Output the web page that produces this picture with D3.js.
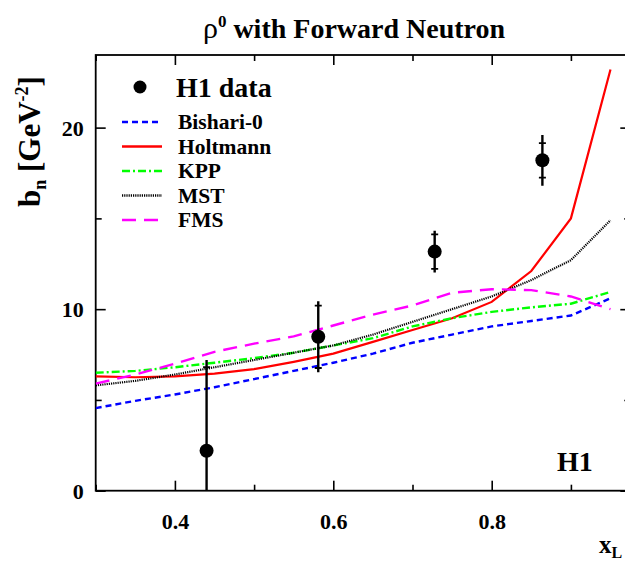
<!DOCTYPE html>
<html><head><meta charset="utf-8">
<script src="https://cdn.jsdelivr.net/npm/d3@7"></script>
<style>
body{margin:0;background:#fff;}
svg{display:block;}
text{font-family:"Liberation Serif","Times New Roman",serif;font-weight:bold;fill:#000;}
</style></head>
<body>
<svg id="chart" width="625" height="562"></svg>
<script>
// ---- data ----
const modelX = [0.30,0.35,0.40,0.45,0.50,0.55,0.60,0.65,0.70,0.75,0.80,0.85,0.90,0.95];
const bishari = [4.55,4.95,5.30,5.70,6.15,6.60,7.05,7.55,8.15,8.60,9.05,9.35,9.65,10.6];
const holtmann = [6.30,6.25,6.30,6.45,6.70,7.10,7.55,8.20,8.85,9.50,10.4,12.1,15.0,23.2];
const kpp = [6.50,6.60,6.80,7.05,7.30,7.60,8.00,8.40,9.05,9.50,9.85,10.1,10.3,10.95];
const mst = [5.80,6.05,6.40,6.80,7.20,7.60,8.00,8.60,9.30,10.0,10.7,11.6,12.7,14.9];
const fms = [5.90,6.40,7.00,7.65,8.10,8.50,9.10,9.70,10.2,10.9,11.1,11.05,10.7,10.0];

const dataX = [0.440,0.581,0.728,0.864];
const dataY = [2.2,8.48,13.17,18.2];
const statErr = [4.6,1.72,0.95,0.95];
const totErr = [5.0,1.95,1.15,1.40];

const xTicks = [0.3,0.4,0.5,0.6,0.7,0.8,0.9];
const xMajor = [0.4,0.6,0.8];
const yTicks = [0,5,10,15,20];
const yMajor = [0,10,20];

const seriesNames = ["Bishari-0","Holtmann","KPP","MST","FMS"];
const seriesData = [bishari,holtmann,kpp,mst,fms];
const seriesColors = ["#0000ff","#ff0000","#00ff00","#000000","#ff00ff"];
const seriesDash = ["6,4","none","8,3,2,3","1.2,1","14,8"];
const seriesWidth = [2.4,2.2,2.4,2.2,2.4];

// ---- layout ----
const svg = d3.select("#chart");
const L=95.7, R=630.3, T=55, B=490.7;
const x = d3.scaleLinear().domain([0.3,0.975]).range([L,R]);
const y = d3.scaleLinear().domain([0,24]).range([B,T]);

svg.append("defs").append("clipPath").attr("id","clip")
  .append("rect").attr("x",L).attr("y",T).attr("width",R-L).attr("height",B-T);

// title
const title = svg.append("text").attr("x",354).attr("y",38).attr("text-anchor","middle").style("font-size","28px");
title.append("tspan").style("font-weight","normal").style("font-size","30px").text("ρ");
title.append("tspan").attr("dy",-11).style("font-size","17px").text("0");
title.append("tspan").attr("dy",11).text(" with Forward Neutron");

// axes (ticks)
const tickLen = v => xMajor.some(m=>Math.abs(m-v)<1e-9) ? 10 : 6;
const ytickLen = v => yMajor.includes(v) ? 10 : 6;

function styleAxis(g){ g.select(".domain").remove(); g.selectAll(".tick line").attr("stroke","#000").attr("stroke-width",1.6); }

const xb = svg.append("g").attr("transform",`translate(0,${B})`)
  .call(d3.axisBottom(x).tickValues(xTicks).tickSize(0).tickFormat(d=>xMajor.some(m=>Math.abs(m-d)<1e-9)?d3.format(".1f")(d):""));
styleAxis(xb);
xb.selectAll(".tick line").attr("y2",d=>-tickLen(d));
xb.selectAll(".tick text").attr("y",38).attr("dy",0).style("font-size","22px").style("font-family","Liberation Serif").style("font-weight","bold");

const xt = svg.append("g").attr("transform",`translate(0,${T})`)
  .call(d3.axisTop(x).tickValues(xTicks).tickSize(0).tickFormat(""));
styleAxis(xt);
xt.selectAll(".tick line").attr("y2",d=>tickLen(d));

const yl = svg.append("g").attr("transform",`translate(${L},0)`)
  .call(d3.axisLeft(y).tickValues(yTicks).tickSize(0).tickFormat(d=>yMajor.includes(d)?d:""));
styleAxis(yl);
yl.selectAll(".tick line").attr("x2",d=>ytickLen(d));
yl.selectAll(".tick text").attr("x",-12).attr("dy","0.35em").style("font-size","22px").style("font-family","Liberation Serif").style("font-weight","bold");

const yr = svg.append("g").attr("transform",`translate(${R},0)`)
  .call(d3.axisRight(y).tickValues(yTicks).tickSize(0).tickFormat(""));
styleAxis(yr);
yr.selectAll(".tick line").attr("x2",d=>-ytickLen(d));

// frame
svg.append("rect").attr("x",L).attr("y",T).attr("width",R-L).attr("height",B-T)
  .attr("fill","none").attr("stroke","#000").attr("stroke-width",1.8);

// model curves
const plot = svg.append("g").attr("clip-path","url(#clip)");
const line = d3.line().x((d,i)=>x(modelX[i])).y(d=>y(d));
seriesData.forEach((s,k)=>{
  plot.append("path").datum(s).attr("d",line).attr("fill","none")
    .attr("stroke",seriesColors[k]).attr("stroke-width",seriesWidth[k])
    .attr("stroke-dasharray",seriesDash[k]==="none"?null:seriesDash[k]);
});

// data points
dataX.forEach((xv,i)=>{
  const cx=x(xv);
  plot.append("line").attr("x1",cx).attr("x2",cx)
    .attr("y1",y(dataY[i]+totErr[i])).attr("y2",y(dataY[i]-totErr[i]))
    .attr("stroke","#000").attr("stroke-width",2.4);
  [dataY[i]+statErr[i],dataY[i]-statErr[i]].forEach(v=>{
    plot.append("line").attr("x1",cx-3.5).attr("x2",cx+3.5).attr("y1",y(v)).attr("y2",y(v))
      .attr("stroke","#000").attr("stroke-width",1.8);
  });
  plot.append("circle").attr("cx",cx).attr("cy",y(dataY[i])).attr("r",7).attr("fill","#000");
});

// legend
svg.append("circle").attr("cx",140).attr("cy",87).attr("r",6.5).attr("fill","#000");
svg.append("text").attr("x",176).attr("y",97).style("font-size","28px").text("H1 data");
seriesNames.forEach((n,k)=>{
  const cy=122+24.5*k;
  svg.append("line").attr("x1",122).attr("x2",162).attr("y1",cy).attr("y2",cy)
    .attr("stroke",seriesColors[k]).attr("stroke-width",seriesWidth[k]+0.3)
    .attr("stroke-dasharray",seriesDash[k]==="none"?null:seriesDash[k]);
  svg.append("text").attr("x",178).attr("y",cy+7).style("font-size","21.5px").text(n);
});

// H1 label
svg.append("text").attr("x",557).attr("y",471).style("font-size","28px").text("H1");

// x label
const xl = svg.append("text").attr("x",599).attr("y",553).style("font-size","25px");
xl.append("tspan").text("x");
xl.append("tspan").attr("dy",5).style("font-size","16px").text("L");

// y label
const ylab = svg.append("text").attr("transform","translate(40,207) rotate(-90)").style("font-size","31px");
ylab.append("tspan").text("b");
ylab.append("tspan").attr("dy",6).style("font-size","18px").text("n");
ylab.append("tspan").attr("dy",-6).text("  [GeV");
ylab.append("tspan").attr("dy",-12).style("font-size","18px").text("-2");
ylab.append("tspan").attr("dy",12).text("]");
</script>
</body></html>
